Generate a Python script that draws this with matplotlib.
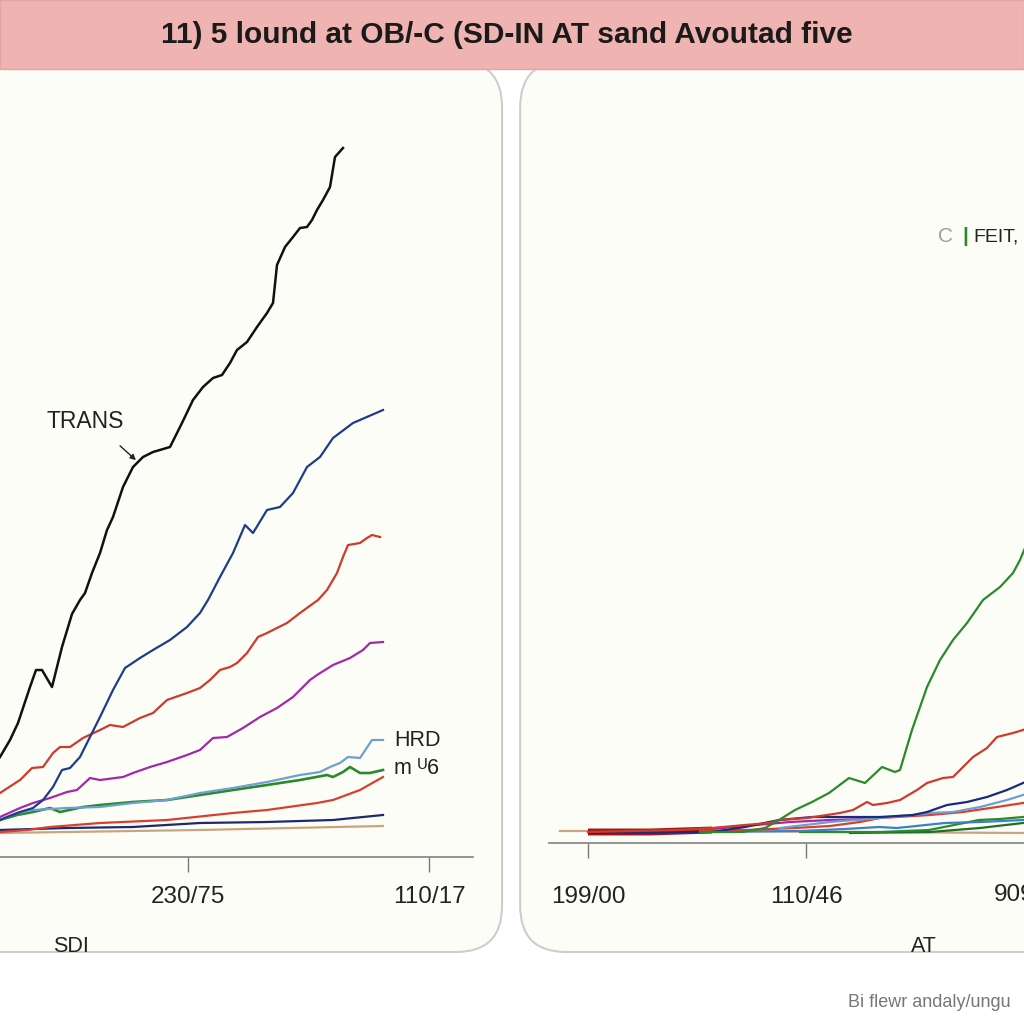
import matplotlib
matplotlib.use("Agg")
import matplotlib.pyplot as plt
from matplotlib.patches import FancyBboxPatch, Rectangle

# ---- left panel (SDI) : x position along axis, y height above baseline ----
black_x = [0, 10, 18, 30, 36, 42, 52, 62, 72, 80, 85, 92, 100, 107, 113, 123, 133, 143, 153, 170, 182, 193,
           203, 213, 222, 230, 237, 247, 257, 267, 273, 277, 285, 293, 300, 307, 312, 317, 323, 330, 335, 343]
black_y = [100, 117, 134, 170, 187, 187, 170, 210, 243, 257, 264, 284, 304, 327, 340, 370, 390, 400, 405, 410, 434, 457,
           470, 479, 482, 494, 507, 515, 530, 544, 554, 592, 610, 620, 629, 630, 637, 647, 657, 670, 700, 709]

blue_x = [0, 7, 20, 33, 43, 53, 62, 70, 80, 87, 100, 113, 125, 140, 153, 170, 187, 200, 208, 220, 233, 245,
          253, 267, 280, 293, 307, 320, 333, 353, 383]
blue_y = [37, 40, 45, 49, 57, 70, 87, 89, 100, 114, 140, 167, 189, 199, 207, 217, 230, 244, 257, 280, 304, 332,
          324, 347, 350, 364, 390, 400, 419, 434, 447]

red_x = [0, 20, 32, 43, 53, 60, 70, 83, 100, 110, 123, 140, 153, 167, 187, 200, 210, 220, 230, 237, 247, 258,
         267, 287, 300, 318, 327, 337, 343, 348, 360, 367, 372, 380]
red_y = [64, 77, 89, 90, 104, 110, 110, 119, 127, 132, 130, 139, 144, 157, 164, 169, 177, 187, 190, 194, 204, 220,
         224, 234, 244, 257, 267, 284, 300, 312, 314, 319, 322, 320]

mag_x = [0, 20, 33, 50, 67, 77, 90, 100, 123, 133, 150, 167, 187, 200, 213, 227, 243, 260, 277, 293, 310, 317,
         333, 350, 363, 370, 383]
mag_y = [40, 49, 54, 59, 65, 67, 79, 77, 80, 84, 90, 95, 102, 107, 119, 120, 129, 140, 149, 160, 177, 182,
         192, 199, 207, 214, 215]

hrd_x = [0, 17, 33, 67, 100, 133, 167, 200, 233, 267, 300, 320, 330, 340, 348, 360, 372, 383]
hrd_y = [37, 44, 47, 49, 50, 54, 57, 64, 69, 75, 82, 85, 90, 94, 100, 99, 117, 117]

grn_x = [0, 17, 33, 50, 60, 83, 100, 133, 167, 200, 233, 267, 300, 327, 333, 343, 350, 360, 370, 383]
grn_y = [37, 42, 45, 49, 45, 50, 52, 55, 57, 62, 67, 72, 77, 82, 80, 85, 90, 84, 84, 87]

red2_x = [0, 27, 50, 100, 167, 233, 267, 317, 333, 360, 383]
red2_y = [25, 27, 30, 34, 37, 44, 47, 54, 57, 67, 80]

navy_x = [0, 67, 133, 200, 267, 333, 383]
navy_y = [27, 29, 30, 34, 35, 37, 42]

tan_x = [0, 200, 383]
tan_y = [24, 27, 31]

left_ticks = [188, 429]
left_ticklabels = ["230/75", "110/17"]

# ---- right panel (AT) ----
r_tan_x = [11, 151, 301, 475]
r_tan_y = [12, 12, 11, 10]

r_dred_x = [39, 101, 163]
r_dred_y = [11, 11, 13]

r_grn_x = [151, 193, 216, 230, 246, 263, 280, 300, 316, 333, 346, 351, 363, 378, 391, 404, 418, 434, 451, 464,
           471, 476, 481]
r_grn_y = [11, 11, 15, 23, 33, 41, 50, 65, 60, 76, 71, 73, 113, 156, 183, 203, 220, 243, 256, 270,
           283, 295, 303]

r_red_x = [39, 130, 163, 196, 220, 231, 258, 278, 291, 304, 318, 324, 338, 351, 368, 378, 394, 404, 414, 424,
           438, 448, 464, 474, 481]
r_red_y = [11, 13, 15, 18, 20, 23, 25, 28, 30, 33, 41, 38, 40, 43, 53, 60, 65, 66, 76, 86,
           95, 106, 110, 113, 116]

r_navy_x = [40, 163, 196, 230, 263, 296, 331, 364, 378, 398, 418, 438, 458, 474, 481]
r_navy_y = [10, 11, 16, 23, 26, 26, 26, 28, 31, 38, 41, 46, 53, 60, 63]

r_lblue_x = [231, 281, 331, 364, 381, 404, 431, 458, 474, 481]
r_lblue_y = [15, 21, 25, 28, 30, 31, 36, 43, 48, 50]

r_mblue_x = [151, 251, 296, 330, 348, 396, 431, 474, 481]
r_mblue_y = [11, 12, 14, 16, 15, 20, 21, 23, 24]

r_red2_x = [151, 196, 246, 281, 311, 331, 381, 414, 448, 474, 481]
r_red2_y = [12, 13, 15, 17, 21, 25, 28, 31, 36, 40, 41]

r_mag_x = [151, 196, 241, 281, 321]
r_mag_y = [13, 17, 21, 23, 24]

r_grn2_x = [251, 331, 380, 430, 451, 474, 481]
r_grn2_y = [11, 11, 13, 23, 24, 26, 27]

r_dgrn_x = [301, 381, 431, 474, 481]
r_dgrn_y = [10, 11, 15, 20, 21]

right_ticks = [39, 257]
right_ticklabels = ["199/00", "110/46"]

title = "11) 5 lound at OB/-C (SD-IN AT sand Avoutad five"

fig = plt.figure(figsize=(10.24, 10.24), dpi=100)
fig.patch.set_facecolor("white")

# rounded panels
panel_kw = dict(boxstyle="round,pad=0,rounding_size=0.045", transform=fig.transFigure,
                facecolor="#fdfdf8", edgecolor="#cdcdcd", linewidth=1.5, zorder=-5)
fig.add_artist(FancyBboxPatch((-0.06, 0.0703), 0.5503, 0.87, **panel_kw))
fig.add_artist(FancyBboxPatch((0.508, 0.0703), 0.56, 0.87, **panel_kw))

# title banner
fig.add_artist(Rectangle((0, 0.933), 1, 0.067, transform=fig.transFigure,
                         facecolor="#efb3b1", edgecolor="#e4a4a2", linewidth=1, zorder=5))
fig.text(0.495, 0.966, title, ha="center", va="center", fontsize=21.5, fontweight="bold",
         family="Liberation Sans", color="#1a1a1a", zorder=6)

LW = 1.6


def style_axis(ax, xmax, ymax, pad):
    ax.set_xlim(0, xmax)
    ax.set_ylim(0, ymax)
    ax.set_facecolor("none")
    for s in ["top", "right", "left"]:
        ax.spines[s].set_visible(False)
    ax.spines["bottom"].set_color("#8a8a8a")
    ax.spines["bottom"].set_linewidth(1.3)
    ax.set_yticks([])
    ax.tick_params(axis="x", direction="out", length=11, width=1, color="#777777",
                   pad=pad, labelsize=17.5, labelcolor="#222222")


# left axes
axL = fig.add_axes([0, (1024 - 857) / 1024, 473 / 1024, 727 / 1024])
style_axis(axL, 473, 727, 10)
axL.plot(tan_x, tan_y, color="#c9a57f", lw=LW)
axL.plot(navy_x, navy_y, color="#1b2a6e", lw=LW)
axL.plot(red2_x, red2_y, color="#d8402e", lw=LW)
axL.plot(grn_x, grn_y, color="#2a8a2a", lw=LW + 0.3)
axL.plot(hrd_x, hrd_y, color="#6f9fd0", lw=LW)
axL.plot(mag_x, mag_y, color="#a02aa8", lw=LW)
axL.plot(red_x, red_y, color="#d03a2a", lw=LW)
axL.plot(blue_x, blue_y, color="#1f3c88", lw=LW)
axL.plot(black_x, black_y, color="#111111", lw=LW + 0.2)
axL.set_xticks(left_ticks)
axL.set_xticklabels(left_ticklabels, family="Liberation Sans")
axL.text(71, -89, "SDI", ha="center", va="center", fontsize=15.5, family="Liberation Sans",
         color="#222222", clip_on=False)
axL.text(394, 117, "HRD", ha="left", va="center", fontsize=15.5, family="Liberation Sans", color="#222222")
axL.text(394, 89, "m \u1d416", ha="left", va="center", fontsize=15.5, family=["Liberation Sans", "DejaVu Sans"],
         color="#222222")
axL.text(85, 435, "TRANS", ha="center", va="center", fontsize=16.5, family="Liberation Sans", color="#222222")
axL.annotate("", xy=(138, 395), xytext=(118, 413),
             arrowprops=dict(arrowstyle="-|>", color="#222222", lw=1, mutation_scale=8))

# right axes
axR = fig.add_axes([549 / 1024, (1024 - 843) / 1024, 475 / 1024, 713 / 1024])
style_axis(axR, 475, 713, 20)
axR.plot(r_tan_x, r_tan_y, color="#c9a57f", lw=LW)
axR.plot(r_dred_x, r_dred_y, color="#a01818", lw=5, solid_capstyle="butt")
axR.plot(r_dgrn_x, r_dgrn_y, color="#1f6e2a", lw=LW)
axR.plot(r_grn2_x, r_grn2_y, color="#2a8a2a", lw=LW)
axR.plot(r_mblue_x, r_mblue_y, color="#3a80c4", lw=LW)
axR.plot(r_mag_x, r_mag_y, color="#a02aa8", lw=LW)
axR.plot(r_red2_x, r_red2_y, color="#d8402e", lw=LW)
axR.plot(r_lblue_x, r_lblue_y, color="#6f9fd0", lw=LW)
axR.plot(r_navy_x, r_navy_y, color="#1b2a7e", lw=LW)
axR.plot(r_red_x, r_red_y, color="#d03a2a", lw=LW)
axR.plot(r_grn_x, r_grn_y, color="#2a8a2a", lw=LW)
axR.set_xticks(right_ticks)
axR.set_xticklabels(right_ticklabels, family="Liberation Sans")
# third tick label runs off the right edge, as in the reference
axR.text(482, -52, "909/15", ha="center", va="center", fontsize=17.5, family="Liberation Sans",
         color="#222222", clip_on=False)
axR.text(375, -103, "AT", ha="center", va="center", fontsize=15.5, family="Liberation Sans",
         color="#222222", clip_on=False)

# stray legend-like text, top right
fig.text(0.923, 0.769, "C", ha="center", va="center", fontsize=15, family="Liberation Sans", color="#a0a090")
fig.text(0.943, 0.769, "|", ha="center", va="center", fontsize=15, family="Liberation Sans",
         color="#2a8a2a", fontweight="bold")
fig.text(0.951, 0.769, "FEIT,", ha="left", va="center", fontsize=14, family="Liberation Sans", color="#222222")

# footer
fig.text(0.828, 0.021, "Bi flewr andaly/ungu", ha="left", va="center", fontsize=13,
         family="Liberation Sans", color="#777777")

fig.savefig("out.png", dpi=100)
